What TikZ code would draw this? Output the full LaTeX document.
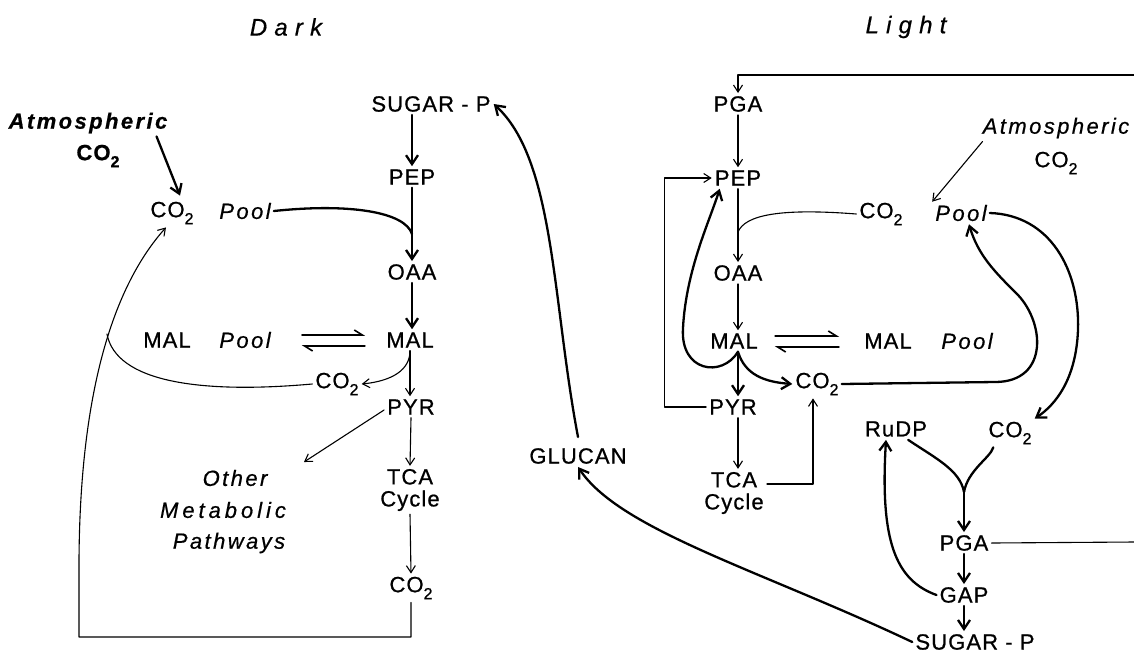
\documentclass[tikz,border=0pt]{standalone}
\usepackage{fontspec}
\setmainfont{Liberation Sans}
\usetikzlibrary{arrows.meta,calc}
\newcommand{\cotwo}{CO\raisebox{-0.32em}{\fontsize{16}{16}\selectfont 2}}
\newcommand{\lblfont}{\fontsize{22}{22}\selectfont\addfontfeature{LetterSpace=5,FakeBold=0.8}}
\newcommand{\itfont}{\fontsize{22}{22}\selectfont\itshape\addfontfeature{LetterSpace=11,FakeBold=0.6}}
\newcommand{\wideit}{\fontsize{22}{22}\selectfont\itshape\addfontfeature{LetterSpace=18,FakeBold=0.6}}
\newcommand{\ttlfont}{\fontsize{24}{24}\selectfont\itshape\addfontfeature{LetterSpace=30,FakeBold=0.6}}
\tikzset{
  lab/.style={inner sep=3pt, font=\lblfont},
  itl/.style={inner sep=3pt, font=\itfont},
  ttl/.style={inner sep=3pt, font=\ttlfont},
  thn/.style={line width=1.1pt},
  thk/.style={line width=2.3pt},
  ar/.style={-{Straight Barb[length=7pt,width=9pt]}},
  arK/.style={-{Straight Barb[length=9pt,width=12pt]}},
  harp/.style={-{Straight Barb[harpoon,length=8pt,width=10pt,line width=1.6pt]}}
}
\begin{document}
\begin{tikzpicture}[x=1pt,y=-1pt,line cap=round,line join=round]
\useasboundingbox (0,0) rectangle (1134,654);
% ---------------- Dark ----------------
\node[ttl] (dark) at (286,27) {Dark};
\node[itl,font=\itfont\bfseries] (atmD) at (88,123) {Atmospheric};
\node[lab,font=\lblfont\bfseries] (atmDco) at (98,156) {\cotwo};
\node[lab] (poolDco) at (172,213) {\cotwo};
\node[itl] (poolD) at (245,211) {Pool};
\node[lab] (sugD) at (431,104) {SUGAR - P};
\node[lab] (pepD) at (412,177) {PEP};
\node[lab] (oaaD) at (412,272) {OAA};
\node[lab] (malD) at (410,340) {MAL};
\node[lab] (malpD) at (167,340) {MAL};
\node[itl] (malpoolD) at (245,340) {Pool};
\node[lab] (co2mD) at (337,384) {\cotwo};
\node[lab] (pyrD) at (411,407) {PYR};
\node[itl] (othA) at (235,478) {Other};
\node[itl,font=\wideit] (othB) at (223,510) {Metabolic};
\node[itl] (othC) at (229,543) {Pathways};
\node[lab,align=center] (tcaD) at (410,490) {TCA\\Cycle};
\node[lab] (co2bD) at (411,588) {\cotwo};
\node[lab] (glucan) at (578,456) {GLUCAN};
% ---------------- Light ----------------
\node[ttl] (light) at (906,27) {Light};
\node[lab] (pgaL) at (738,104) {PGA};
\node[lab] (pepL) at (738,178) {PEP};
\node[lab] (co2pL) at (881,214) {\cotwo};
\node[itl] (poolL) at (961,213) {Pool};
\node[itl] (atmL) at (1056,128) {Atmospheric};
\node[lab] (atmLco) at (1056,163) {\cotwo};
\node[lab] (oaaL) at (738,273) {OAA};
\node[lab] (malL) at (734,341) {MAL};
\node[lab] (malpL) at (888,341) {MAL};
\node[itl] (malpoolL) at (967,341) {Pool};
\node[lab] (pyrL) at (733,407) {PYR};
\node[lab] (co2mL) at (817,384) {\cotwo};
\node[lab,align=center] (tcaL) at (734,493) {TCA\\Cycle};
\node[lab] (rudp) at (896,429) {RuDP};
\node[lab] (co2R) at (1010,433) {\cotwo};
\node[lab] (pgaL2) at (964,543) {PGA};
\node[lab] (gap) at (964,595) {GAP};
\node[lab] (sugL) at (975,642) {SUGAR - P};
% free ends / junctions
\coordinate (jD) at (412,234);
\coordinate (loopBL) at (79,637);
\coordinate (jLoop) at (107,334);
\coordinate (othTip) at (304,462);
\coordinate (jL) at (738,232);
\coordinate (ym) at (964,492);
\coordinate (edgeT) at (1134,75);
\coordinate (edgeB) at (1134,542);
% ---------------- Dark connectors ----------------
\draw[thk,arK] (sugD.south -| pepD) -- (pepD.north);
\draw[thk,arK] (pepD.south) -- (oaaD.north);
\draw[thk] (poolD.east) .. controls (350,203) and (405,212) .. (jD);
\draw[thk,arK] (oaaD.south) -- (oaaD.south |- malD.north);
\draw[thn,harp] ([xshift=28pt,yshift=5pt]malpoolD.east) -- ([xshift=-18pt,yshift=5pt]malD.west);
\draw[thn,harp] ([xshift=-18pt,yshift=-6pt]malD.west) -- ([xshift=28pt,yshift=-6pt]malpoolD.east);
\draw[thn,ar] (malD.south) .. controls (410,370) and (392,381) .. (co2mD.east);
\draw[thn,ar] (malD.south) -- (malD.south |- pyrD.north);
\draw[thn] (co2mD.west) .. controls (200,394) and (116,382) .. (jLoop);
\draw[thn,ar] (co2bD.south) |- (loopBL) -- (79,560) .. controls (80,400) and (110,290) .. ([xshift=-6pt]poolDco.south);
\draw[thn,ar] ([yshift=-3pt]pyrD.west) -- (othTip);
\draw[thn,ar] (pyrD.south) -- (tcaD.north);
\draw[thn,ar] (tcaD.south) -- (co2bD.north);
\draw[thk,arK] ([yshift=8pt]glucan.north) .. controls (552,300) and (555,160) .. (sugD.east);
\draw[thk,arK] (sugL.west) .. controls (760,570) and (620,530) .. (glucan.south);
\draw[thk,arK] ([xshift=-14pt]atmD.south east) -- ([xshift=8pt,yshift=3pt]poolDco.north);
% ---------------- Light connectors ----------------
\draw[thn,ar] (edgeT) -| (pgaL.north);
\draw[thn,ar] (pgaL.south) -- (pepL.north);
\draw[thn,ar] (pepL.south) -- (oaaL.north);
\draw[thn] (co2pL.west) .. controls (780,208) and (745,215) .. (jL);
\draw[thn,ar] ([xshift=3pt]atmL.south west) -- (poolL.north west);
\draw[thn,ar] (oaaL.south) -- (oaaL.south |- malL.north);
\draw[thn,harp] ([xshift=14pt,yshift=5pt]malL.east) -- ([xshift=-22pt,yshift=5pt]malpL.west);
\draw[thn,harp] ([xshift=-22pt,yshift=-6pt]malpL.west) -- ([xshift=14pt,yshift=-6pt]malL.east);
\draw[thk,arK] (malL.south -| oaaL) -- (pyrL.north -| oaaL);
\draw[thk,arK] (malL.south -| oaaL) .. controls (745,375) and (765,382) .. (co2mL.west);
\draw[thk,arK] (malL.south -| oaaL) .. controls (722,378) and (680,372) .. (683,328) .. controls (686,270) and (710,220) .. ([xshift=8pt]pepL.south west);
\draw[thn,ar] (pyrL.west) -- ++(-42,0) |- (pepL.west);
\draw[thn,ar] (pyrL.south -| oaaL) -- (tcaL.north -| oaaL);
\draw[thn,ar] ([yshift=9pt]tcaL.east) -| ([xshift=-4pt]co2mL.south);
\draw[thk,arK] (co2mL.east) -- (995,382) .. controls (1050,382) and (1045,320) .. (1015,292) .. controls (995,272) and (978,255) .. ([xshift=8pt]poolL.south);
\draw[thk,arK] (poolL.east) .. controls (1050,215) and (1080,270) .. (1078,330) .. controls (1076,380) and (1055,405) .. (co2R.north east);
\draw[thk] ([xshift=-22pt]rudp.south east) .. controls (935,458) and (960,470) .. (ym);
\draw[thk] ([xshift=8pt]co2R.south west) .. controls (990,458) and (968,470) .. (ym);
\draw[thk,arK] (ym) -- (pgaL2.north);
\draw[thk,arK] (pgaL2.south) -- (gap.north);
\draw[thk,arK] (gap.south) -- (gap.south |- sugL.north);
\draw[thk,arK] (gap.west) .. controls (895,580) and (880,540) .. ([xshift=-10pt]rudp.south);
\draw[thn] (pgaL2.east) -- (edgeB);
\end{tikzpicture}
\end{document}
